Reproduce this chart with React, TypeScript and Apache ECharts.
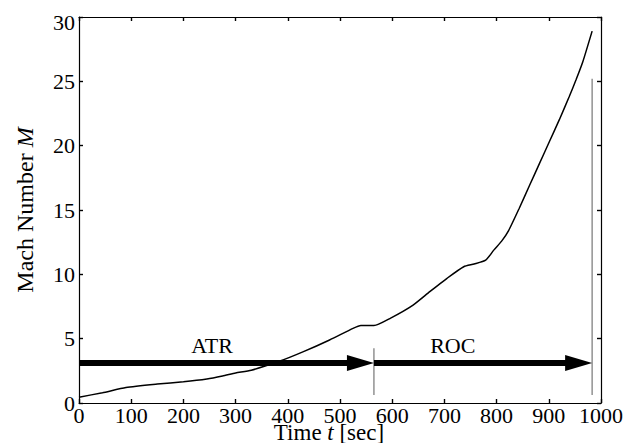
import React, { useEffect, useRef } from "react";
import * as echarts from "echarts";

// Flight time [sec] and Mach number along the trajectory
const timeSec = [0, 45, 90, 150, 200, 245, 275, 300, 330, 385, 430, 480, 525, 540, 565, 597, 640, 672, 705, 737, 757, 779, 795, 810, 823, 843, 863, 882, 901, 920, 939, 952, 965, 983];
const machNumber = [0.45, 0.8, 1.2, 1.47, 1.65, 1.87, 2.1, 2.33, 2.55, 3.26, 3.99, 4.9, 5.8, 6.02, 6.02, 6.6, 7.61, 8.65, 9.69, 10.59, 10.8, 11.1, 11.9, 12.6, 13.4, 15.1, 16.9, 18.6, 20.3, 22.0, 23.8, 25.1, 26.5, 28.9];

// Propulsion phases drawn as arrows
const phaseNames = ["ATR", "ROC"];
const phaseStart = [0, 565];
const phaseEnd = [565, 983];
const phaseLevel = 3.1;
const phaseLabelT = [255, 716];
const phaseLabelM = 4.45;

// Phase boundary markers: time, lower and upper Mach
const markerT = [565, 983];
const markerLow = [0.62, 0.62];
const markerHigh = [4.25, 25.2];

const xTicks = { min: 0, max: 1000, interval: 100 };
const yTicks = { min: 0, max: 30, interval: 5 };

const FONT = "Liberation Serif";

export default function App() {
  const ref = useRef<HTMLDivElement>(null);

  useEffect(() => {
    if (!ref.current) return;
    const chart = echarts.init(ref.current, undefined, { renderer: "svg" });

    const axisLine = { show: true, onZero: false, lineStyle: { color: "#000", width: 1.2 } };
    const axisTick = { show: true, inside: true, length: 4, lineStyle: { color: "#000", width: 1.4 } };
    const labelStyle = { fontFamily: FONT, fontSize: 22, color: "#000", lineHeight: 14 };

    const curve = timeSec.map((t, i) => [t, machNumber[i]]);
    const phases = phaseNames.map((n, i) => [phaseStart[i], phaseEnd[i], phaseLevel, phaseLabelT[i], phaseLabelM, n]);
    const markers = markerT.map((t, i) => [t, markerLow[i], markerHigh[i]]);

    chart.setOption({
      animation: false,
      backgroundColor: "#fff",
      grid: { left: 79, right: 28, top: 17, bottom: 40 },
      xAxis: [
        {
          type: "value", ...xTicks, position: "bottom",
          axisLine, axisTick, splitLine: { show: false },
          axisLabel: { ...labelStyle, margin: 5, formatter: (v: number) => String(v) },
        },
        {
          type: "value", ...xTicks, position: "top",
          axisLine, axisTick, splitLine: { show: false },
          axisLabel: { show: false },
        },
      ],
      yAxis: [
        {
          type: "value", ...yTicks, position: "left",
          axisLine, axisTick, splitLine: { show: false },
          axisLabel: {
            ...labelStyle,
            margin: 4,
            formatter: (v: number) => (v === yTicks.max ? `{top|${v}}` : String(v)),
            rich: { top: { fontFamily: FONT, fontSize: 22, color: "#000", lineHeight: 14, padding: [11, 0, 0, 0] } },
          },
        },
        {
          type: "value", ...yTicks, position: "right",
          axisLine, axisTick, splitLine: { show: false },
          axisLabel: { show: false },
        },
      ],
      series: [
        {
          type: "line",
          data: curve,
          smooth: 0.2,
          showSymbol: false,
          lineStyle: { color: "#000", width: 1.5 },
          z: 3,
        },
        {
          type: "custom",
          data: markers,
          clip: false,
          renderItem: (_p: any, api: any) => {
            const a = api.coord([api.value(0), api.value(1)]);
            const b = api.coord([api.value(0), api.value(2)]);
            return {
              type: "line",
              shape: { x1: a[0], y1: a[1], x2: b[0], y2: b[1] },
              style: { stroke: "#808080", lineWidth: 1.3 },
            };
          },
          z: 2,
        },
        {
          type: "custom",
          data: phases,
          clip: false,
          renderItem: (_p: any, api: any) => {
            const s = api.coord([api.value(0), api.value(2)]);
            const e = api.coord([api.value(1), api.value(2)]);
            const lab = api.coord([api.value(3), api.value(4)]);
            const headLen = 27;
            const headHalf = 8;
            return {
              type: "group",
              children: [
                {
                  type: "line",
                  shape: { x1: s[0], y1: s[1], x2: e[0] - headLen + 2, y2: e[1] },
                  style: { stroke: "#000", lineWidth: 6 },
                },
                {
                  type: "polygon",
                  shape: {
                    points: [
                      [e[0] - headLen, e[1] - headHalf],
                      [e[0], e[1]],
                      [e[0] - headLen, e[1] + headHalf],
                    ],
                  },
                  style: { fill: "#000" },
                },
                {
                  type: "text",
                  x: lab[0],
                  y: lab[1],
                  style: {
                    text: String(api.value(5)),
                    fontFamily: FONT,
                    fontSize: 22,
                    fill: "#000",
                    align: "center",
                    verticalAlign: "middle",
                  },
                },
              ],
            };
          },
          z: 4,
        },
      ],
      graphic: [
        {
          type: "text",
          x: 329,
          y: 432,
          style: {
            text: "{a|Time }{i|t}{a| [sec]}",
            align: "center",
            verticalAlign: "middle",
            rich: {
              a: { fontFamily: FONT, fontSize: 23, fill: "#000", lineHeight: 14 },
              i: { fontFamily: FONT, fontSize: 23, fontStyle: "italic", fill: "#000", lineHeight: 14 },
            },
          },
        },
        {
          type: "text",
          x: 25,
          y: 210,
          rotation: Math.PI / 2,
          style: {
            text: "{a|Mach Number }{i|M}",
            align: "center",
            verticalAlign: "middle",
            rich: {
              a: { fontFamily: FONT, fontSize: 24, fill: "#000" },
              i: { fontFamily: FONT, fontSize: 24, fontStyle: "italic", fill: "#000" },
            },
          },
        },
      ],
    });

    return () => chart.dispose();
  }, []);

  return (
    <div
      ref={ref}
      style={{ position: "fixed", left: 0, top: 0, width: 629, height: 443, background: "#fff" }}
    />
  );
}
